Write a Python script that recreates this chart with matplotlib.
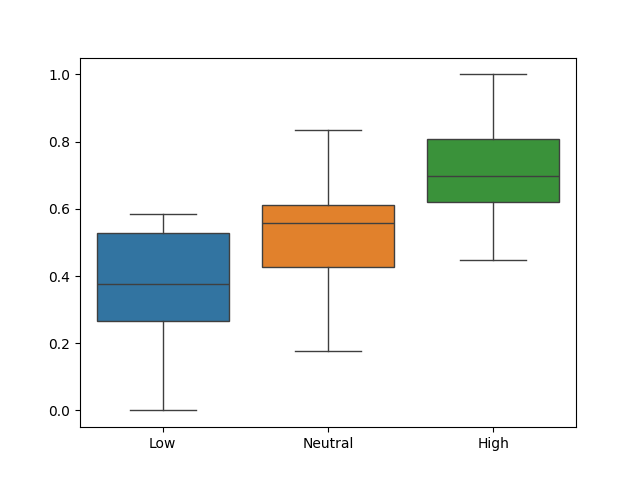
import matplotlib
matplotlib.use("Agg")
import matplotlib.pyplot as plt

# summary stats
categories = ["Low", "Neutral", "High"]
whislo = [0.0, 0.176, 0.449]
q1 = [0.265, 0.426, 0.619]
med = [0.375, 0.557, 0.699]
q3 = [0.527, 0.610, 0.807]
whishi = [0.586, 0.836, 1.0]
colors = ["#3274a1", "#e1812c", "#3a923a"]

stats = []
for i, name in enumerate(categories):
    stats.append({"label": name, "whislo": whislo[i], "q1": q1[i], "med": med[i],
                  "q3": q3[i], "whishi": whishi[i], "fliers": []})

fig, ax = plt.subplots(figsize=(6.4, 4.8), dpi=100)
line = dict(color="#3f3f3f", linewidth=1.0)
bp = ax.bxp(stats, positions=range(len(categories)), widths=0.8, patch_artist=True,
            showfliers=False, boxprops=dict(edgecolor="#3f3f3f", linewidth=1.0),
            medianprops=line, whiskerprops=line, capprops=line)
for patch, c in zip(bp["boxes"], colors):
    patch.set_facecolor(c)

ax.set_xlim(-0.5, 2.5)
ax.set_ylim(-0.05, 1.05)
ax.set_xticks(range(len(categories)))
ax.set_xticklabels(categories)

fig.savefig("out.png")
